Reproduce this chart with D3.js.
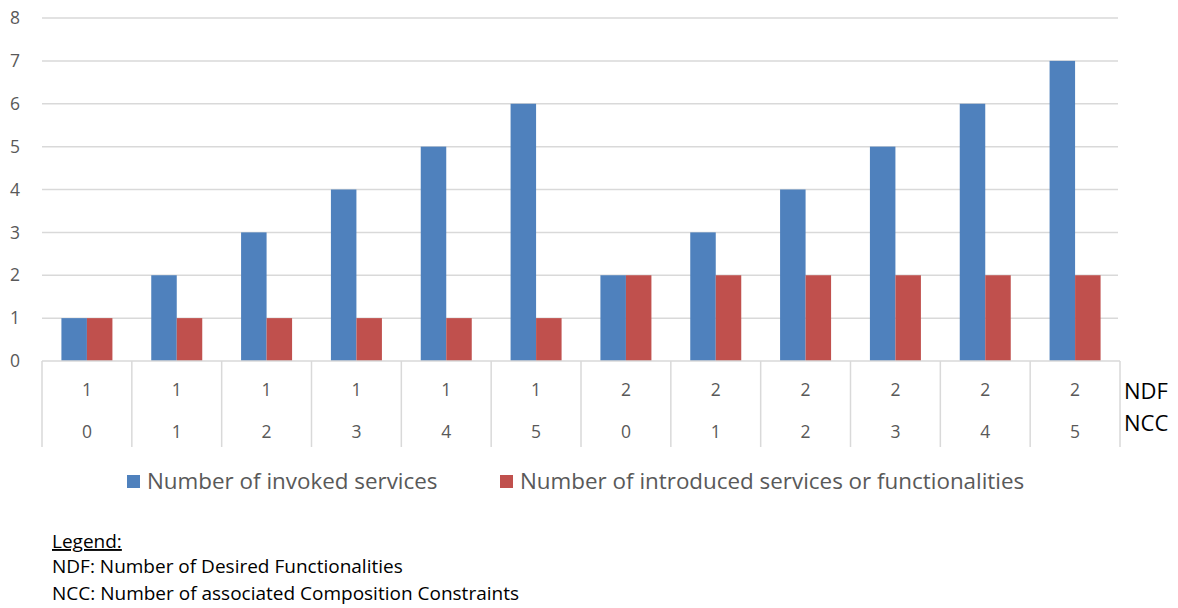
<!DOCTYPE html>
<html>
<head>
<meta charset="utf-8">
<script src="https://cdn.jsdelivr.net/npm/d3@7"></script>
<style>
body { margin:0; background:#fff; }
svg { display:block; }
</style>
</head>
<body>
<svg id="chart" width="1178" height="608"></svg>
<script>
const ndf = ["1","1","1","1","1","1","2","2","2","2","2","2"];
const ncc = ["0","1","2","3","4","5","0","1","2","3","4","5"];
const invoked = [1,2,3,4,5,6,2,3,4,5,6,7];
const introduced = [1,1,1,1,1,1,2,2,2,2,2,2];
const seriesNames = ["Number of invoked services", "Number of introduced services or functionalities"];
const colors = ["#4F81BD", "#C0504D"];
const yTicks = [0,1,2,3,4,5,6,7,8];
const notes = ["NDF: Number of Desired Functionalities", "NCC: Number of associated Composition Constraints"];

const svg = d3.select("#chart");
const plotLeft = 42, plotRight = 1120, plotTop = 18, zeroY = 361;
const idx = d3.range(ndf.length);
const x = d3.scaleBand().domain(idx).range([plotLeft, plotRight]);
const y = d3.scaleLinear().domain([0, 8]).range([zeroY, plotTop]);
const fontAxis = "'Open Sans', 'Liberation Sans', sans-serif";

// gridlines
svg.append("g").selectAll("line").data(yTicks.filter(d => d > 0)).join("line")
  .attr("x1", plotLeft).attr("x2", plotRight - 2)
  .attr("y1", d => y(d)).attr("y2", d => y(d))
  .attr("stroke", "#D9D9D9").attr("stroke-width", 1.5);

// y tick labels
svg.append("g").selectAll("text").data(yTicks).join("text")
  .attr("x", 15).attr("y", d => y(d)).attr("dy", "0.35em")
  .attr("text-anchor", "middle")
  .attr("font-family", fontAxis).attr("font-size", 17.5).attr("fill", "#595959")
  .text(d => d);

// bars
const barW = 25.5;
const series = [invoked, introduced];
series.forEach((vals, s) => {
  svg.append("g").selectAll("rect").data(idx).join("rect")
    .attr("x", i => x(i) + x.bandwidth()/2 - barW + s*barW)
    .attr("width", barW)
    .attr("y", i => y(vals[i]))
    .attr("height", i => y(0) - y(vals[i]))
    .attr("fill", colors[s]);
});

// category axis
const axBottom = 447;
svg.append("line").attr("x1", plotLeft).attr("x2", plotRight).attr("y1", zeroY).attr("y2", zeroY)
  .attr("stroke", "#D9D9D9").attr("stroke-width", 1.5);
svg.append("g").selectAll("line").data(d3.range(ndf.length + 1)).join("line")
  .attr("x1", i => plotLeft + i * x.step()).attr("x2", i => plotLeft + i * x.step())
  .attr("y1", zeroY).attr("y2", axBottom)
  .attr("stroke", "#D9D9D9").attr("stroke-width", 1.5);

svg.append("g").selectAll("text").data(idx).join("text")
  .attr("x", i => x(i) + x.bandwidth()/2).attr("y", 390).attr("dy", "0.35em")
  .attr("text-anchor", "middle").attr("font-family", fontAxis).attr("font-size", 17.5).attr("fill", "#595959")
  .text(i => ndf[i]);
svg.append("g").selectAll("text").data(idx).join("text")
  .attr("x", i => x(i) + x.bandwidth()/2).attr("y", 432).attr("dy", "0.35em")
  .attr("text-anchor", "middle").attr("font-family", fontAxis).attr("font-size", 17.5).attr("fill", "#595959")
  .text(i => ncc[i]);

svg.append("text").attr("x", 1124).attr("y", 391.5).attr("dy", "0.35em")
  .attr("font-family", fontAxis).attr("font-size", 22).attr("fill", "#000").text("NDF");
svg.append("text").attr("x", 1124).attr("y", 423.5).attr("dy", "0.35em")
  .attr("font-family", fontAxis).attr("font-size", 22).attr("fill", "#000").text("NCC");

// legend
const legX = [127, 500];
seriesNames.forEach((n, s) => {
  svg.append("rect").attr("x", legX[s]).attr("y", 475).attr("width", 13).attr("height", 13).attr("fill", colors[s]);
  svg.append("text").attr("x", legX[s] + 20).attr("y", 481.5).attr("dy", "0.35em")
    .attr("font-family", fontAxis).attr("font-size", 22.4).attr("fill", "#595959").text(n);
});

// notes
svg.append("text").attr("x", 52).attr("y", 548)
  .attr("font-family", fontAxis).attr("font-size", 19).attr("fill", "#000")
  .attr("text-decoration", "underline").text("Legend:");
notes.forEach((t, i) => {
  svg.append("text").attr("x", 52).attr("y", 573 + i * 27)
    .attr("font-family", fontAxis).attr("font-size", 19).attr("fill", "#000").text(t);
});
</script>
</body>
</html>
